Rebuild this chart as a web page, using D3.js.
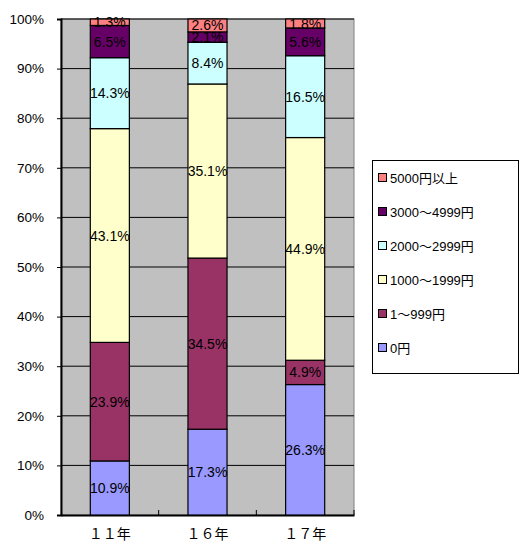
<!DOCTYPE html>
<html><head><meta charset="utf-8">
<script src="https://cdn.jsdelivr.net/npm/d3@7"></script>
<style>body{margin:0;background:#fff}</style>
</head><body>
<svg id="c" width="520" height="549"></svg>
<script>
const categories = ["１１年", "１６年", "１７年"];
const seriesNames = ["0円", "1～999円", "1000～1999円", "2000～2999円", "3000～4999円", "5000円以上"];
const v0 = [10.9, 17.3, 26.3];
const v1 = [23.9, 34.5, 4.9];
const v2 = [43.1, 35.1, 44.9];
const v3 = [14.3, 8.4, 16.5];
const v4 = [6.5, 2.1, 5.6];
const v5 = [1.3, 2.6, 1.8];
const colors = ["#9999FF", "#993366", "#FFFFCC", "#CCFFFF", "#660066", "#FF8080"];
const yTicks = [0,10,20,30,40,50,60,70,80,90,100];

const values = [v0, v1, v2, v3, v4, v5];
const rows = categories.map((c, i) => {
  const r = {cat: c};
  seriesNames.forEach((s, j) => r[s] = values[j][i]);
  return r;
});
const stack = d3.stack().keys(seriesNames)(rows);

const svg = d3.select("#c");
const font = "'Liberation Sans', Arial, 'Noto Sans CJK JP', sans-serif";
const cjk = "'Noto Sans CJK JP', sans-serif";
const L = 61, R = 354, T = 19, B = 515;
const x = d3.scaleBand().domain(categories).range([L, R]).paddingInner(0.6).paddingOuter(0.3);
const x0 = d3.scaleBand().domain(categories).range([L, R]);
const y = d3.scaleLinear().domain([0, 100]).range([B, T]);

svg.append("rect").attr("x", L).attr("y", T).attr("width", R - L).attr("height", B - T)
  .attr("fill", "#C0C0C0").attr("stroke", "#808080").attr("stroke-width", 1);

svg.append("g").selectAll("line").data(yTicks.filter(t => t > 0)).join("line")
  .attr("x1", L).attr("x2", R).attr("y1", d => y(d)).attr("y2", d => y(d))
  .attr("stroke", "#000").attr("stroke-width", 1);

const yAxis = svg.append("g").attr("transform", `translate(${L},0)`)
  .call(d3.axisLeft(y).tickValues(yTicks).tickFormat(d => d + "%").tickSize(4).tickPadding(13));
yAxis.select(".domain").attr("stroke", "#000").attr("stroke-width", 2);
yAxis.selectAll("text").attr("font-family", font).attr("font-size", 13.5).attr("fill", "#000");

const xAxis = svg.append("g").attr("transform", `translate(0,${B})`)
  .call(d3.axisBottom(x0).tickSize(0).tickPadding(14));
xAxis.select(".domain").attr("stroke", "#000").attr("stroke-width", 2);
xAxis.selectAll("text").attr("font-family", cjk).attr("font-size", 14).attr("fill", "#000");
svg.append("g").selectAll("line").data(categories.slice(1)).join("line")
  .attr("x1", d => x0(d)).attr("x2", d => x0(d)).attr("y1", B).attr("y2", B - 5)
  .attr("stroke", "#000").attr("stroke-width", 1);
svg.append("line").attr("x1", R).attr("x2", R).attr("y1", B).attr("y2", B - 5).attr("stroke", "#000");

const g = svg.append("g");
stack.forEach((layer, j) => {
  g.selectAll(null).data(layer).join("rect")
    .attr("x", d => x(d.data.cat)).attr("width", x.bandwidth())
    .attr("y", d => y(d[1])).attr("height", d => y(d[0]) - y(d[1]))
    .attr("fill", colors[j]).attr("stroke", "#000").attr("stroke-width", 1.2);
});
stack.forEach((layer, j) => {
  g.selectAll(null).data(layer).join("text")
    .attr("x", d => x(d.data.cat) + x.bandwidth() / 2)
    .attr("y", d => (y(d[0]) + y(d[1])) / 2)
    .attr("dy", "0.36em").attr("text-anchor", "middle")
    .attr("font-family", font).attr("font-size", 14).attr("fill", "#000")
    .text(d => (d[1] - d[0]).toFixed(1) + "%");
});

const lg = svg.append("g");
lg.append("rect").attr("x", 372.5).attr("y", 160.5).attr("width", 146).attr("height", 213)
  .attr("fill", "#fff").attr("stroke", "#000").attr("stroke-width", 1);
const legendItems = seriesNames.map((s, j) => ({s, c: colors[j]})).reverse();
const ly = d3.scalePoint().domain(legendItems.map(d => d.s)).range([178, 348]);
legendItems.forEach(d => {
  lg.append("rect").attr("x", 378.5).attr("y", ly(d.s) - 4.5).attr("width", 8).attr("height", 8)
    .attr("fill", d.c).attr("stroke", "#000").attr("stroke-width", 1);
  lg.append("text").attr("x", 390).attr("y", ly(d.s)).attr("dy", "0.36em")
    .attr("font-family", font).attr("font-size", 13).attr("fill", "#000").text(d.s);
});
</script>
</body></html>
